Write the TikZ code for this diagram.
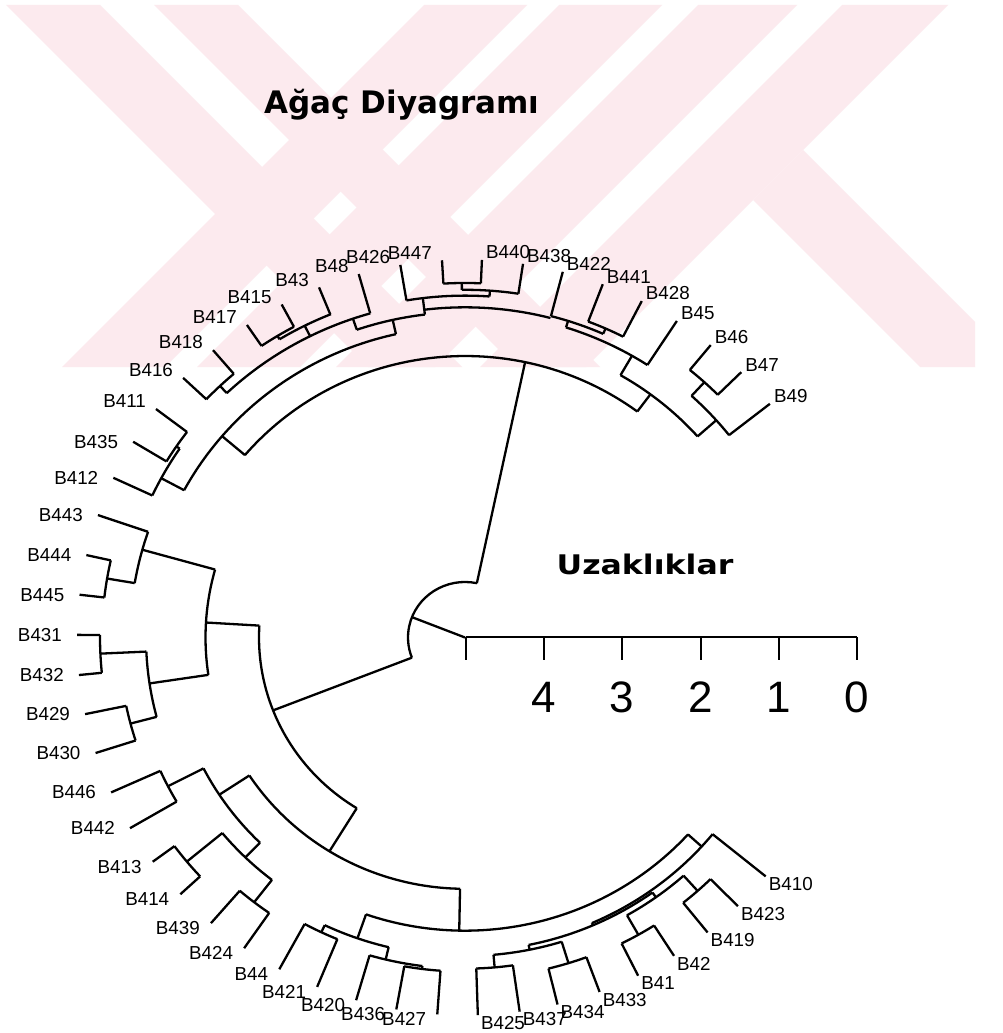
\documentclass[tikz,border=0pt]{standalone}
\usepackage{fontspec}
\setmainfont{Liberation Sans}
\newfontfamily\boldfont{DejaVu Sans}
\definecolor{wm}{RGB}{252,234,238}
\newcommand\Rd[3]{\draw (#1:#2) -- (#1:#3);}
\newcommand\Ac[3]{\draw (#2:#1) arc[start angle=#2, end angle=#3, radius=#1pt];}
\newcommand\Lf[4]{\draw (#1:#2) -- (#1:388) coordinate (t#3); \node[#4] (#3) at (t#3) {#3};}
\begin{document}
\begin{tikzpicture}[x=1pt,y=1pt,
  tree/.style={line width=2.3pt, line join=miter},
  lbl/.style={font=\fontsize{18.8pt}{21pt}\selectfont, inner sep=0pt},
  qa/.style={lbl, anchor=south west, xshift=3pt},
  qb/.style={lbl, anchor=south east, xshift=-9pt},
  qc/.style={lbl, anchor=east, xshift=-14pt},
  qd/.style={lbl, anchor=north east, xshift=-10pt, yshift=3pt},
  qe/.style={lbl, anchor=north west, xshift=2pt},
  axis/.style={line width=2.3pt},
  num/.style={font=\fontsize{44pt}{50pt}\selectfont, inner sep=0pt, anchor=base}]
\useasboundingbox (0,0) rectangle (1003,-1033);
\fill[white] (0,0) rectangle (1003,-1033);
% watermark
\begin{scope}
\clip (5,-5) rectangle (975,-367);
\fill[wm] (6,-5) -- (100,-5) -- (462,-367) -- (368,-367) -- cycle;
\fill[wm] (154,-5) -- (238,-5) -- (600,-367) -- (516,-367) -- cycle;
\fill[wm] (424,-5) -- (527,-5) -- (165,-367) -- (62,-367) -- cycle;
\fill[wm] (559,-5) -- (662,-5) -- (300,-367) -- (197,-367) -- cycle;
\fill[wm] (698,-5) -- (797,-5) -- (435,-367) -- (336,-367) -- cycle;
\fill[wm] (842,-5) -- (948,-5) -- (586,-367) -- (480,-367) -- cycle;
\fill[wm] (803,-150) -- (1020,-367) -- (920,-367) -- (753,-200) -- cycle;
\end{scope}
% titles
\node[font=\boldfont\bfseries\fontsize{31pt}{36pt}\selectfont, inner sep=0pt, anchor=base] (title) at (402,-113) {Ağaç Diyagramı};
\node[font=\boldfont\bfseries\fontsize{27pt}{32pt}\selectfont, inner sep=0pt, anchor=base] (uzak) at (645,-574) {\scalebox{1.17}[1]{Uzaklıklar}};
% axis
\coordinate (a5) at (466,-637);
\coordinate (a0) at (857,-637);
\draw[axis] (a5) -- (a0);
\foreach \x/\v in {466/, 544/4, 622/3, 701/2, 779/1, 857/0}{
  \draw[axis] (\x,-637) -- (\x,-660);
  \node[num] at (\x,-712) {\v};
}
% dendrogram
\begin{scope}[shift={(465,-637.5)}, yscale=0.974, tree]
% root
\Rd{158.5}{0}{57}
\Ac{57}{78}{201.3}
\Rd{78}{57}{289}
\Rd{201.3}{57}{206}
% top cluster
\Ac{289}{53.4}{139.6}
% top right
\Rd{53.4}{289}{311}
\Ac{311}{41.6}{60}
\Rd{41.6}{311}{336}
\Ac{336}{38.2}{47.6}
\Rd{47.6}{336}{355}
\Ac{355}{44.6}{50.7}
\Rd{60}{311}{334}
\Ac{334}{56.9}{72.4}
\Rd{72.4}{334}{341}
\Ac{341}{66.1}{75.4}
\Rd{66.1}{341}{347}
\Ac{347}{62.9}{69.2}
\Lf{38.2}{336}{B49}{qa}
\Lf{44.6}{355}{B47}{qa}
\Lf{50.7}{355}{B46}{qa}
\Lf{56.9}{334}{B45}{qa}
\Lf{62.9}{347}{B428}{qa}
\Lf{69.2}{347}{B441}{qa}
\Lf{75.4}{341}{B422}{qa}
% top left
\Rd{139.6}{289}{319}
\Ac{319}{102.5}{151.7}
\Rd{151.7}{319}{345}
\Ac{345}{145.8}{155}
\Rd{145.8}{345}{349}
\Ac{349}{142.8}{148.8}
\Lf{142.8}{349}{B411}{qb}
\Lf{148.8}{349}{B435}{qc}
\Lf{155.0}{345}{B412}{qc}
\Rd{102.5}{319}{334}
\Ac{334}{96.9}{108.9}
\Ac{339}{75.4}{96.9}
\Rd{108.9}{334}{346}
\Ac{346}{105.9}{133.5}
\Rd{133.5}{346}{356}
\Ac{356}{130.5}{136.6}
\Lf{136.6}{356}{B416}{qb}
\Lf{130.5}{356}{B418}{qb}
\Rd{116.6}{346}{358}
\Ac{358}{112}{121.2}
\Rd{121.2}{358}{362}
\Ac{362}{118.2}{124.2}
\Lf{124.2}{362}{B417}{qb}
\Lf{118.2}{362}{B415}{qb}
\Lf{112.1}{358}{B43}{qb}
\Lf{105.9}{346}{B48}{qb}
\Rd{96.9}{334}{351}
\Ac{351}{86}{99.6}
\Rd{86}{351}{357}
\Ac{357}{81.4}{90.5}
\Rd{90.5}{357}{364}
\Ac{364}{87.5}{93.4}
\Lf{99.6}{351}{B426}{qb}
\Lf{93.4}{364}{B447}{qb}
\Lf{87.5}{364}{B440}{qa}
\Lf{81.4}{357}{B438}{qa}
% bottom cluster
\Ac{206}{176.6}{238.3}
\Rd{176.6}{206}{259.5}
\Ac{259.5}{164.4}{188.5}
\Rd{164.4}{259.5}{335}
\Ac{335}{161.1}{170.4}
\Rd{170.4}{335}{363}
\Ac{363}{167.4}{173.5}
\Lf{161.1}{335}{B443}{qc}
\Lf{167.4}{363}{B444}{qc}
\Lf{173.5}{363}{B445}{qc}
\Rd{188.5}{259.5}{319}
\Ac{319}{182.6}{194.8}
\Rd{182.6}{319}{365}
\Ac{365}{179.6}{185.7}
\Rd{194.8}{319}{346}
\Ac{346}{191.7}{197.8}
\Lf{179.6}{365}{B431}{qc}
\Lf{185.7}{365}{B432}{qc}
\Lf{191.7}{346}{B429}{qc}
\Lf{197.8}{346}{B430}{qc}
\Rd{238.3}{206}{258}
\Ac{258}{213.3}{268.9}
\Rd{213.3}{258}{294}
\Ac{294}{207.2}{225.8}
\Rd{207.2}{294}{334}
\Ac{334}{204.2}{210.3}
\Lf{204.2}{334}{B446}{qc}
\Lf{210.3}{334}{B442}{qc}
\Rd{225.8}{294}{315}
\Ac{315}{219.6}{232.2}
\Rd{219.6}{315}{361}
\Ac{361}{216.4}{222.8}
\Rd{232.2}{315}{344}
\Ac{344}{229.1}{235.3}
\Lf{216.4}{361}{B413}{qd}
\Lf{222.8}{361}{B414}{qd}
\Lf{229.1}{344}{B439}{qd}
\Lf{235.3}{344}{B424}{qd}
\Rd{268.9}{258}{301}
\Ac{301}{250.8}{317.8}
\Rd{250.8}{301}{327}
\Ac{327}{244.6}{256.5}
\Rd{244.6}{327}{335}
\Ac{335}{241.4}{247.6}
\Rd{256.5}{327}{340}
\Ac{340}{253.7}{262.8}
\Rd{262.8}{340}{343}
\Ac{343}{259.8}{265.9}
\Lf{241.4}{335}{B44}{qd}
\Lf{247.6}{335}{B421}{qd}
\Lf{253.7}{340}{B420}{qd}
\Lf{259.8}{343}{B436}{qd}
\Lf{265.9}{343}{B427}{qd}
\Rd{317.8}{301}{319.5}
\Ac{319.5}{293.4}{320.8}
\Lf{320.8}{319.5}{B410}{qe}
\Rd{293.4}{319.5}{322}
\Ac{322}{281.4}{305.6}
\Rd{281.4}{322}{327}
\Ac{327}{275}{287.2}
\Rd{275}{327}{340}
\Ac{340}{271.9}{278.1}
\Rd{287.2}{327}{350}
\Ac{350}{283.8}{290.3}
\Lf{271.9}{340}{B425}{qe}
\Lf{278.1}{340}{B437}{qe}
\Lf{283.8}{350}{B434}{qe}
\Lf{290.3}{350}{B433}{qe}
\Rd{305.6}{322}{328}
\Ac{328}{299.6}{311.8}
\Rd{299.6}{328}{351}
\Ac{351}{296.5}{302.6}
\Rd{311.8}{328}{349}
\Ac{349}{308.7}{314.7}
\Lf{296.5}{351}{B41}{qe}
\Lf{302.6}{351}{B42}{qe}
\Lf{308.7}{349}{B419}{qe}
\Lf{314.7}{349}{B423}{qe}
\end{scope}
\end{tikzpicture}
\end{document}
